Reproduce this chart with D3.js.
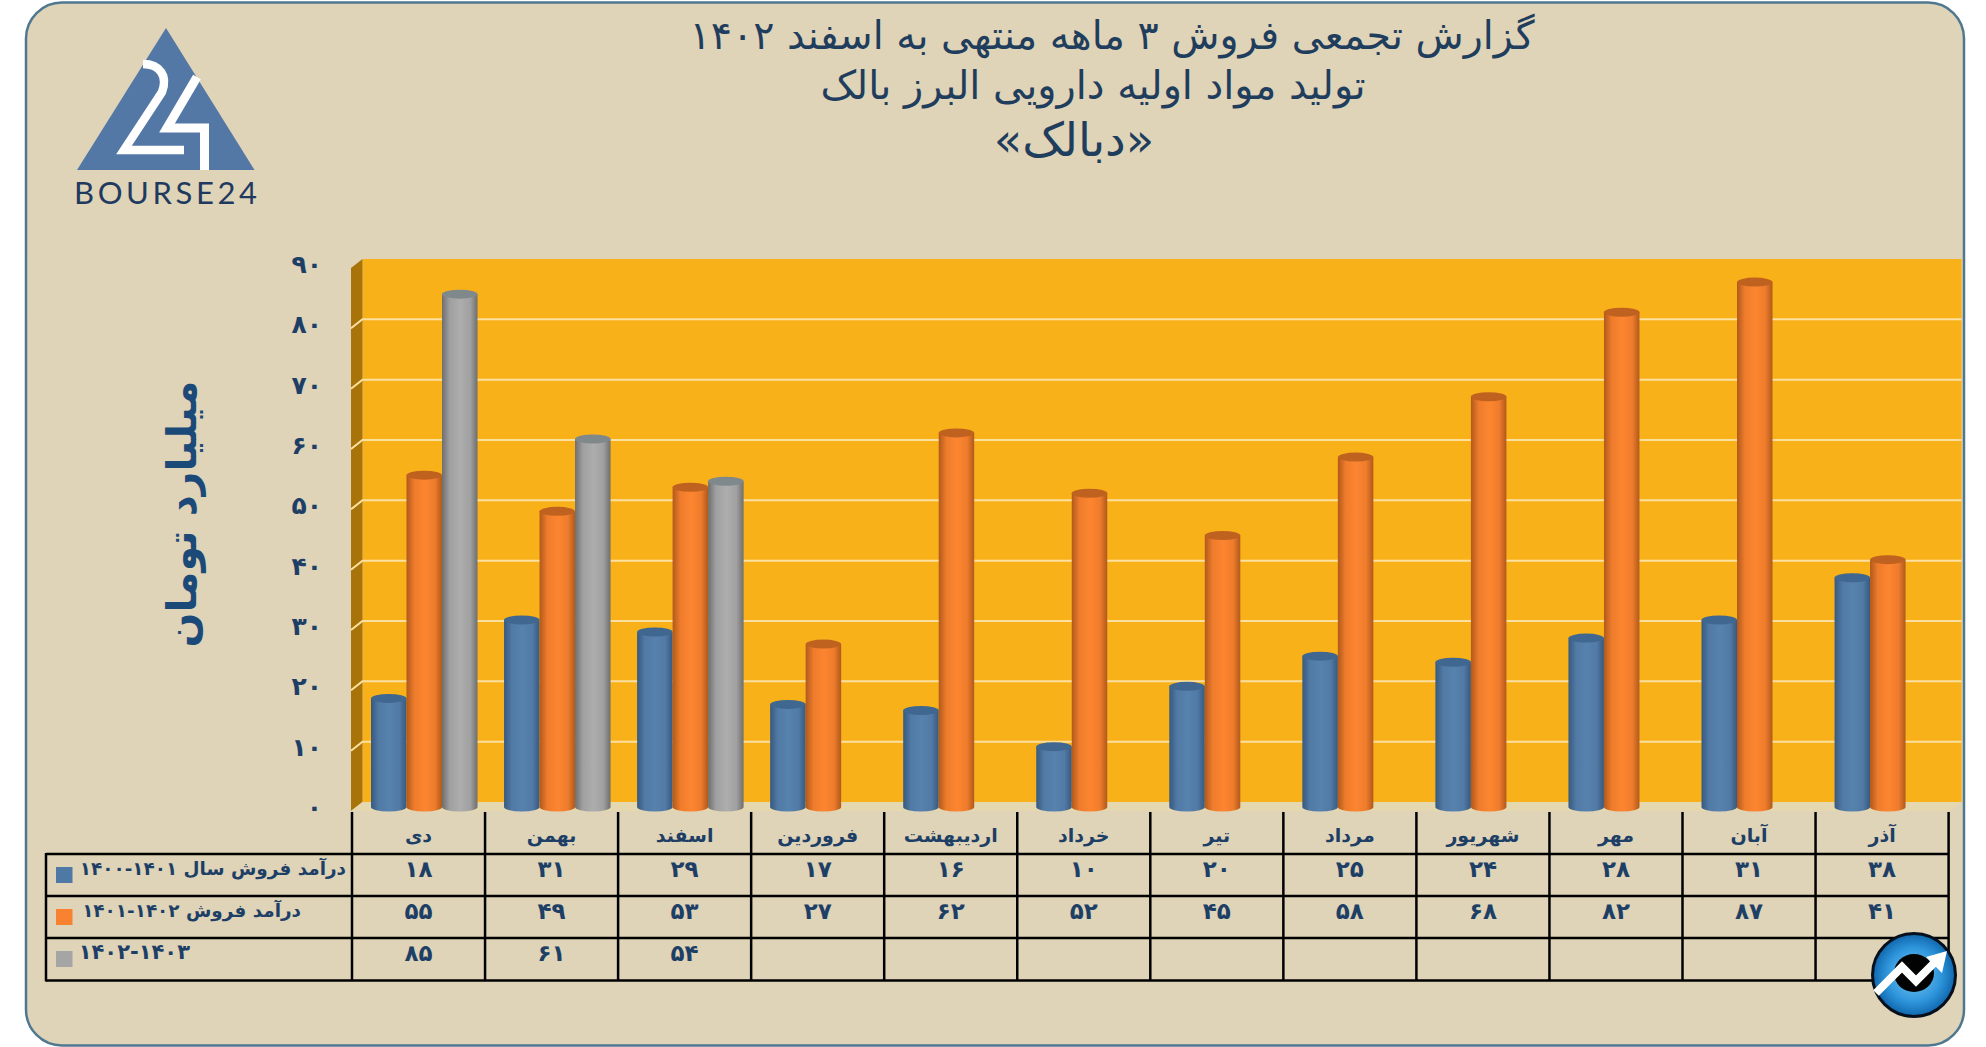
<!DOCTYPE html>
<html lang="fa">
<head>
<meta charset="utf-8">
<script src="https://cdn.jsdelivr.net/npm/d3@7"></script>
<style>
  html, body { margin: 0; padding: 0; background: #fff; }
  svg { display: block; }
  text { font-family: "DejaVu Sans", sans-serif; }
</style>
</head>
<body>
<svg id="chart"></svg>
<script>
const titleLines = ["گزارش تجمعی فروش ۳ ماهه منتهی به اسفند ۱۴۰۲", "تولید مواد اولیه دارویی البرز بالک", "«دبالک»"];
const yTitle = "میلیارد تومان";
const months = ["دی", "بهمن", "اسفند", "فروردین", "اردیبهشت", "خرداد", "تیر", "مرداد", "شهریور", "مهر", "آبان", "آذر"];
const sales1400 = [18, 31, 29, 17, 16, 10, 20, 25, 24, 28, 31, 38];
const sales1401 = [55, 49, 53, 27, 62, 52, 45, 58, 68, 82, 87, 41];
const sales1402 = [85, 61, 54];
const seriesValues = [sales1400, sales1401, sales1402];
const seriesNames = ["درآمد فروش سال \u2066۱۴۰۰-۱۴۰۱\u2069", "درآمد فروش \u2066۱۴۰۱-۱۴۰۲\u2069", "\u2066۱۴۰۲-۱۴۰۳\u2069"];

const width = 1986, height = 1047;
const ink = "#1d3f66";
const seriesColors = [
  { side: "#37597f", mid: "#5782ae", top: "#3f6790", swatch: "#4f79a5" },
  { side: "#b1591b", mid: "#fd8530", top: "#c0621f", swatch: "#f98230" },
  { side: "#6e6e6e", mid: "#adadad", top: "#7f898c", swatch: "#a5a5a5" }
];

const toFa = n => String(n).replace(/\d/g, d => "۰۱۲۳۴۵۶۷۸۹"[d]);

const svg = d3.select("#chart").attr("width", width).attr("height", height);
const defs = svg.append("defs");

// panel behind everything
svg.append("rect")
  .attr("x", 26).attr("y", 2.5)
  .attr("width", 1938).attr("height", 1043)
  .attr("rx", 36)
  .attr("fill", "#dfd3b8")
  .attr("stroke", "#4f7890")
  .attr("stroke-width", 2.5);

// scales
const tableLeft = 46, colLeft = 352, colRight = 1948.6;
const x = d3.scaleBand().domain(months).range([colLeft, colRight]);
const xBar = d3.scaleBand().domain(d3.range(3)).range([19, 125.5]);
const y = d3.scaleLinear().domain([0, 90]).range([807, 264]);
const wallDx = 11.5, backDy = -5, frontDy = 4;
const plotRight = 1961.6;

// back wall, side wall and floor
const plot = svg.append("g");
plot.append("rect")
  .attr("x", colLeft - 1 + wallDx).attr("y", y(90) + backDy)
  .attr("width", plotRight - (colLeft - 1 + wallDx))
  .attr("height", y(0) - y(90))
  .attr("fill", "#f9b11a");
plot.append("polygon")
  .attr("points", [
    [351, y(90) + frontDy], [351 + wallDx, y(90) + backDy],
    [351 + wallDx, y(0) + backDy], [351, y(0) + frontDy]
  ].join(" "))
  .attr("fill", "#a87409");
plot.append("polygon")
  .attr("points", [
    [351, y(0) + frontDy], [351 + wallDx, y(0) + backDy],
    [plotRight, y(0) + backDy], [plotRight - wallDx, y(0) + frontDy]
  ].join(" "))
  .attr("fill", "#e6d8ae");

// gridlines run along the back wall and bend down the side wall
const gridValues = y.ticks(9).filter(v => v > 0 && v < 90);
plot.append("g").selectAll("path")
  .data(gridValues)
  .join("path")
  .attr("d", v => `M351,${y(v) + frontDy}L${351 + wallDx},${y(v) + backDy}H${plotRight}`)
  .attr("fill", "none")
  .attr("stroke", "#fbe0a0")
  .attr("stroke-width", 2);

// y axis
const yAxis = svg.append("g")
  .attr("transform", "translate(322,0.5)")
  .call(d3.axisLeft(y).ticks(9).tickSize(0).tickPadding(0).tickFormat(toFa));
yAxis.select(".domain").remove();
yAxis.selectAll("text")
  .attr("fill", ink)
  .style("font-size", "25px")
  .style("font-weight", "bold");

svg.append("text")
  .attr("transform", "translate(196,514) rotate(-90)")
  .attr("text-anchor", "middle")
  .attr("direction", "rtl")
  .attr("fill", "#1b4a78")
  .style("font-size", "41px")
  .style("font-weight", "bold")
  .text(yTitle);

// cylinder gradients
seriesColors.forEach((c, i) => {
  const g = defs.append("linearGradient").attr("id", `cyl${i}`);
  g.append("stop").attr("offset", "0%").attr("stop-color", c.side);
  g.append("stop").attr("offset", "22%").attr("stop-color", d3.interpolateRgb(c.side, c.mid)(0.8));
  g.append("stop").attr("offset", "52%").attr("stop-color", c.mid);
  g.append("stop").attr("offset", "80%").attr("stop-color", d3.interpolateRgb(c.side, c.mid)(0.8));
  g.append("stop").attr("offset", "100%").attr("stop-color", c.side);
});

// bars
const barRy = 4.5;
const barData = seriesValues.flatMap((vals, s) =>
  vals.map((v, i) => ({ month: months[i], value: v, series: s }))
);
const bars = svg.append("g").selectAll("g")
  .data(d3.sort(barData, d => months.indexOf(d.month), d => d.series))
  .join("g")
  .attr("transform", d => `translate(${x(d.month) + xBar(d.series)},0)`);

const barW = xBar.bandwidth();
bars.append("path")
  .attr("d", d => `M0,${y(d.value)}V${y(0)}A${barW / 2},${barRy} 0 0 0 ${barW},${y(0)}V${y(d.value)}Z`)
  .attr("fill", d => `url(#cyl${d.series})`);
bars.append("ellipse")
  .attr("cx", barW / 2)
  .attr("cy", d => y(d.value))
  .attr("rx", barW / 2)
  .attr("ry", barRy)
  .attr("fill", d => seriesColors[d.series].top);

// data table
const rowY = [854, 896, 938, 980.5];
const headerTop = 812;
const table = svg.append("g");
table.selectAll("line.row")
  .data(rowY)
  .join("line")
  .attr("class", "row")
  .attr("x1", tableLeft).attr("x2", colRight)
  .attr("y1", d => d).attr("y2", d => d)
  .attr("stroke", "#000").attr("stroke-width", 2.5);
table.selectAll("line.col")
  .data(months.map(m => x(m)).concat(colRight))
  .join("line")
  .attr("class", "col")
  .attr("x1", d => d).attr("x2", d => d)
  .attr("y1", headerTop).attr("y2", rowY[3])
  .attr("stroke", "#000").attr("stroke-width", 2.5);
table.append("line")
  .attr("x1", tableLeft).attr("x2", tableLeft)
  .attr("y1", rowY[0] - 1).attr("y2", rowY[3] + 1)
  .attr("stroke", "#000").attr("stroke-width", 2.5);

table.selectAll("text.month")
  .data(months)
  .join("text")
  .attr("class", "month")
  .attr("x", d => x(d) + x.bandwidth() / 2)
  .attr("y", 842)
  .attr("text-anchor", "middle")
  .attr("direction", "rtl")
  .attr("fill", ink)
  .style("font-size", "19px")
  .style("font-weight", "bold")
  .text(d => d);

const rowCenter = [877, 919, 961];
seriesValues.forEach((vals, s) => {
  table.append("g").selectAll("text")
    .data(vals)
    .join("text")
    .attr("x", (d, i) => x(months[i]) + x.bandwidth() / 2)
    .attr("y", rowCenter[s])
    .attr("text-anchor", "middle")
    .attr("fill", ink)
    .style("font-size", "23px")
    .style("font-weight", "bold")
    .text(toFa);
});

// legend keys in the first column
const legendRows = table.append("g").selectAll("g")
  .data(seriesNames)
  .join("g");
legendRows.append("rect")
  .attr("x", 56)
  .attr("y", (d, i) => [867, 909, 951][i])
  .attr("width", 16.5).attr("height", 16)
  .attr("fill", (d, i) => seriesColors[i].swatch);
const legendEnd = [346, 301, 190];
const legendSize = [18.4, 18.4, 21];
legendRows.append("text")
  .attr("x", (d, i) => legendEnd[i])
  .attr("y", (d, i) => [875, 917, 959][i])
  .attr("text-anchor", "start")
  .attr("direction", "rtl")
  .attr("fill", ink)
  .style("font-size", (d, i) => legendSize[i] + "px")
  .style("font-weight", "bold")
  .text(d => d);

// title
const titleX = [1112, 1093, 1074];
const titleY = [49, 99, 156];
const titleSize = [39.5, 39.8, 46.5];
svg.append("g").selectAll("text")
  .data(titleLines)
  .join("text")
  .attr("x", (d, i) => titleX[i])
  .attr("y", (d, i) => titleY[i])
  .attr("text-anchor", "middle")
  .attr("direction", "rtl")
  .attr("fill", "#1f3d5c")
  .style("font-size", (d, i) => titleSize[i] + "px")
  .text(d => d);

// Bourse24 logo
const logo = svg.append("g");
logo.append("polygon")
  .attr("points", "166,28 77,170 254.5,170")
  .attr("fill", "#5378a6");
logo.append("path")
  .attr("d", "M143,64C160,64 168,76 162,92L124,150H184")
  .attr("fill", "none").attr("stroke", "#fff").attr("stroke-width", 8.5);
logo.append("path")
  .attr("d", "M197,77L167,128H204.5V170")
  .attr("fill", "none").attr("stroke", "#fff").attr("stroke-width", 9);
logo.append("text")
  .attr("x", 74).attr("y", 203.5)
  .attr("textLength", 183)
  .attr("lengthAdjust", "spacing")
  .attr("fill", "#1f3a5f")
  .style("font-family", "Lato, sans-serif")
  .style("font-size", "31px")
  .text("BOURSE24");

// round badge, bottom right
const badgeGrad = defs.append("radialGradient").attr("id", "badgeFill");
badgeGrad.append("stop").attr("offset", "0%").attr("stop-color", "#7cc8f2");
badgeGrad.append("stop").attr("offset", "65%").attr("stop-color", "#2f96dc");
badgeGrad.append("stop").attr("offset", "100%").attr("stop-color", "#0f66ac");
const badge = svg.append("g");
badge.append("circle")
  .attr("cx", 1914).attr("cy", 975).attr("r", 41.5)
  .attr("fill", "url(#badgeFill)")
  .attr("stroke", "#05101c").attr("stroke-width", 3);
badge.append("ellipse")
  .attr("cx", 1914).attr("cy", 973).attr("rx", 20).attr("ry", 19)
  .attr("fill", "#020202");
badge.append("polyline")
  .attr("points", "1876,993 1902,967 1916,981 1937,960")
  .attr("fill", "none").attr("stroke", "#fff").attr("stroke-width", 8);
badge.append("polygon")
  .attr("points", "1947,951 1926,957 1942,973")
  .attr("fill", "#fff");
</script>
</body>
</html>
